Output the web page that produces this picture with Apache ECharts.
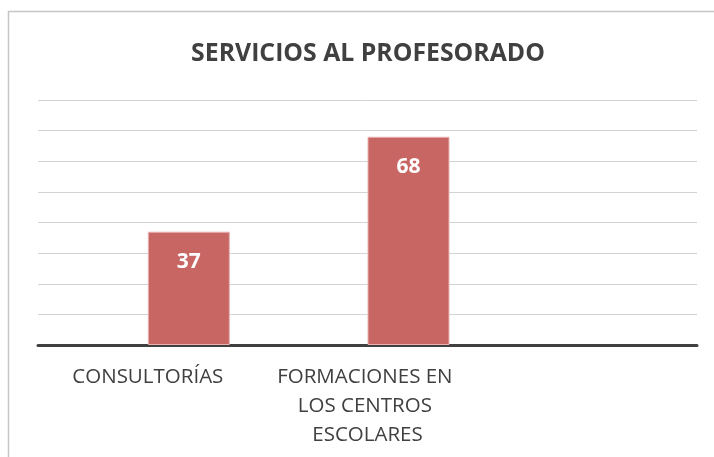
<!DOCTYPE html>
<html>
<head>
<meta charset="utf-8">
<script src="https://cdn.jsdelivr.net/npm/echarts@6/dist/echarts.min.js"></script>
<style>
  html, body { margin: 0; padding: 0; background: #fff; }
  #chart { width: 714px; height: 457px; }
</style>
</head>
<body>
<div id="chart"></div>
<script>
const categories = ['CONSULTORÍAS', 'FORMACIONES EN LOS CENTROS ESCOLARES', '']
// first series is empty in the original workbook, it only shifts the visible bars
const serie1 = [null, null, null]
const serie2 = [37, 68, null]

const chart = echarts.init(document.getElementById('chart'))

const barStyle = {
    color: '#C86664',
    borderColor: '#E9B3B2',
    borderWidth: 1
}

const option = {
    animation: false,
    backgroundColor: '#fff',
    title: {
        text: 'SERVICIOS AL PROFESORADO',
        left: 363,
        textAlign: 'center',
        top: 36,
        textStyle: {
            fontFamily: 'Open Sans',
            fontSize: 24.8,
            fontWeight: 'bold',
            color: '#404040'
        }
    },
    graphic: [{
        type: 'rect',
        shape: { x: 8.5, y: 11.5, width: 720, height: 470 },
        style: { fill: 'none', stroke: '#C6C6C6', lineWidth: 1.5 },
        silent: true
    }],
    grid: {
        left: 38,
        right: 17,
        top: 100,
        bottom: 112
    },
    xAxis: {
        type: 'category',
        data: categories,
        axisTick: { show: false },
        axisLine: { lineStyle: { color: '#404040', width: 3 } },
        axisLabel: {
            interval: 0,
            margin: 18,
            width: 200,
            overflow: 'break',
            lineHeight: 29,
            fontFamily: 'Open Sans',
            fontSize: 20.5,
            color: '#404040'
        }
    },
    yAxis: {
        type: 'value',
        min: 0,
        max: 80,
        interval: 10,
        axisLabel: { show: false },
        axisLine: { show: false },
        axisTick: { show: false },
        splitLine: { lineStyle: { color: '#D3D3D3', width: 1 } }
    },
    series: [{
        name: 'Serie 1',
        type: 'bar',
        data: serie1,
        barWidth: 82,
        barGap: '0%',
        itemStyle: barStyle
    }, {
        name: 'Serie 2',
        type: 'bar',
        data: serie2,
        barWidth: 82,
        barGap: '0%',
        itemStyle: barStyle,
        label: {
            show: true,
            position: 'insideTop',
            distance: 20,
            fontFamily: 'Open Sans',
            fontSize: 21,
            fontWeight: 'bold',
            color: '#fff'
        }
    }]
}

chart.setOption(option)
</script>
</body>
</html>
